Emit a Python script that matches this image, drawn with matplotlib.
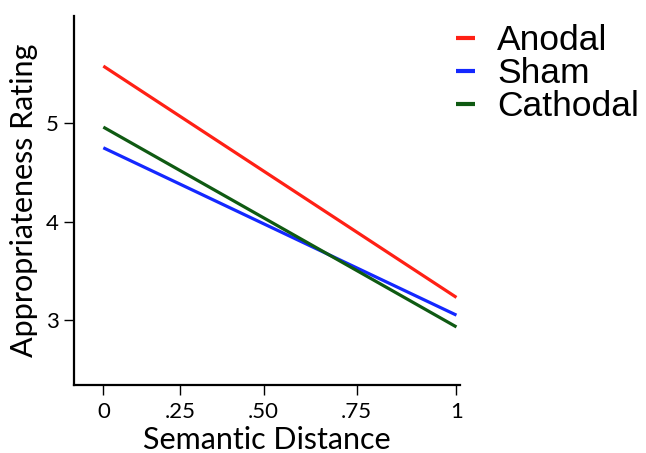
import matplotlib.pyplot as plt

# values
groups = ['Anodal', 'Sham', 'Cathodal']
colors = ['#ff2015', '#1428ff', '#0f5a12']
x_ends = [0, 1]
rating_at_0 = [5.58, 4.75, 4.96]
rating_at_1 = [3.23, 3.05, 2.93]

# the x tick marks are not evenly spaced in the original
xtick_pos = [0, 0.218, 0.454, 0.717, 1]
xtick_lab = ['0', '.25', '.50', '.75', '1']
ytick_pos = [3, 4, 5]

fig = plt.figure(figsize=(6.46, 4.53), dpi=100)
ax = fig.add_axes([0.1146, 0.150, 0.598, 0.815])

for g, c, y0, y1 in zip(groups, colors, rating_at_0, rating_at_1):
    ax.plot(x_ends, [y0, y1], color=c, lw=2.3, label=g, solid_capstyle='butt')

ax.set_xlim(-0.083, 1.011)
ax.set_ylim(2.34, 6.09)
ax.set_xticks(xtick_pos)
ax.set_xticklabels(xtick_lab)
ax.set_yticks(ytick_pos)

for s in ['top', 'right']:
    ax.spines[s].set_visible(False)
for s in ['left', 'bottom']:
    ax.spines[s].set_linewidth(1.6)

for lab in ax.get_xticklabels() + ax.get_yticklabels():
    lab.set_fontfamily('Lato')
    lab.set_fontsize(16)
ax.tick_params(axis='y', direction='out', length=7, width=1, pad=4)
ax.tick_params(axis='x', direction='out', length=7, width=1, pad=5)

ax.set_ylabel('Appropriateness Rating', fontfamily='Lato', fontsize=22, labelpad=6)
ax.set_xlabel('Semantic Distance', fontfamily='Lato', fontsize=22, labelpad=3)

fig.legend(loc='upper left', bbox_to_anchor=(0.706, 0.946), frameon=False,
           prop=dict(family='Liberation Sans', size=25.5), handlelength=0.54,
           handletextpad=0.62, labelspacing=0.0, borderpad=0, borderaxespad=0)
for h in fig.legends[0].get_lines():
    h.set_linewidth(3)

fig.savefig('out.png', dpi=100)
